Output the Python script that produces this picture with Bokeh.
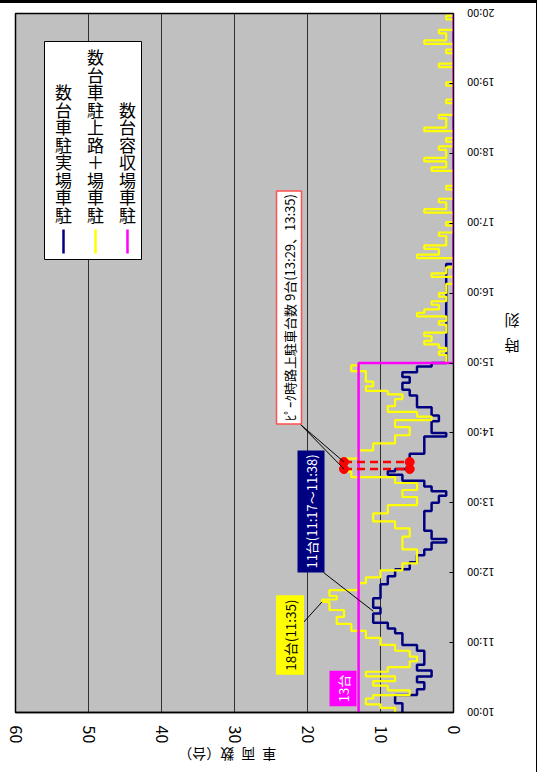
import math
from bokeh.plotting import figure
from bokeh.models import Range1d, FixedTicker, Label, ColumnDataSource, LinearAxis
from bokeh.embed import file_html
from bokeh.resources import INLINE
from bokeh.core.properties import value

FONT = "Noto Sans CJK JP"
TITLE_FONT = "'Liberation Sans', 'Noto Sans CJK JP'"

# ---------------- data ----------------
count_ticks = [0, 10, 20, 30, 40, 50, 60]
hour_ticks = [10, 11, 12, 13, 14, 15, 16, 17, 18, 19, 20]
hour_labels = ["10:00", "11:00", "12:00", "13:00", "14:00", "15:00",
               "16:00", "17:00", "18:00", "19:00", "20:00"]
x_title = "車\u2002両\u2002数（台）"
y_title = "時\n刻"

# 駐車場実駐車台数 (actual cars in the parking lot)
lot_times = ["10:00", "10:08", "10:15", "10:20", "10:26", "10:31", "10:36", "10:41",
             "10:53", "10:58", "11:08", "11:12", "11:17", "11:25", "11:30", "11:38",
             "11:50", "11:57", "12:03", "12:09", "12:15", "12:20", "12:26", "12:29",
             "12:36", "12:53", "13:00", "13:06", "13:10", "13:14", "13:19", "13:24",
             "13:27", "13:29", "13:42", "13:57", "14:00", "14:10", "14:15", "14:22",
             "14:32", "14:37", "14:43", "14:48", "14:52", "14:57", "15:00", "16:25"]
lot_vals = [7, 8, 5, 4, 5, 3, 5, 4,
            5, 7, 8, 9, 11, 10, 11, 10,
            9, 8, 6, 5, 4, 3, 1, 3,
            4, 3, 2, 1, 3, 4, 7, 9,
            8, 6, 4, 1, 3, 2, 3, 5,
            6, 7, 6, 7, 5, 3, 1, 0]

# 駐車場＋路上駐車台数 (lot + on-street)
total_times = ["10:00", "10:04", "10:07", "10:12", "10:15", "10:19", "10:23", "10:27",
               "10:31", "10:35", "10:39", "10:44", "10:48", "10:53", "10:58", "11:04",
               "11:10", "11:16", "11:22", "11:28", "11:35", "11:37", "11:40", "11:45",
               "11:51", "11:56", "12:02", "12:08", "12:20", "12:31", "12:38", "12:44",
               "12:51", "12:58", "13:05", "13:11", "13:17", "13:22", "13:27", "13:38",
               "13:45", "13:51", "13:58", "14:05", "14:11", "14:14", "14:18", "14:23",
               "14:29", "14:33", "14:36", "14:40", "14:44", "14:53", "14:58",
               "15:00", "15:07", "15:10", "15:13", "15:16", "15:19", "15:23", "15:26",
               "15:33", "15:36", "15:40", "15:43", "15:46", "15:50", "15:53", "15:57",
               "16:00", "16:08", "16:14", "16:17", "16:22", "16:30", "16:33", "16:38",
               "16:41", "16:49", "16:52", "16:58", "17:01", "17:09", "17:12", "17:18",
               "17:21", "17:29", "17:32", "17:45", "17:48", "17:53", "17:56", "18:03",
               "18:06", "18:10", "18:13", "18:19", "18:22", "18:30", "18:33", "18:43",
               "18:46", "18:58", "19:01", "19:14", "19:17", "19:26", "19:29", "19:34",
               "19:37", "19:43", "19:46", "19:55", "19:58"]
total_vals = [8, 10, 12, 11, 6, 9, 11, 8,
              12, 9, 6, 5, 6, 8, 10, 12,
              14, 16, 15, 17, 18, 16, 17, 13,
              12, 10, 7, 5, 7, 6, 8, 11,
              9, 5, 7, 5, 8, 14, 15, 13,
              11, 8, 6, 8, 3, 5, 9, 8,
              7, 9, 12, 11, 12, 14, 13,
              1, 2, 1, 2, 4, 3, 4, 1,
              2, 1, 5, 4, 2, 3, 1, 2,
              1, 0, 3, 1, 0, 5, 2, 4,
              1, 2, 0, 1, 0, 4, 1, 2,
              0, 1, 0, 3, 1, 4, 1, 2,
              0, 1, 0, 4, 1, 2, 0, 1,
              0, 1, 0, 2, 0, 1, 0, 4,
              1, 2, 0, 1, 0]

# 駐車場収容台数 (capacity)
cap_times = ["10:00", "15:00"]
cap_vals = [13, 0]

# peak of on-street parking
peak_times = ["13:29", "13:35"]
peak_total = [15, 15]
peak_lot = [6, 6]

legend_names = ["駐車場実駐車台数", "駐車場＋路上駐車台数", "駐車場収容台数"]
legend_colors = ["#000080", "#FFFF00", "#FF00FF"]


def hrs(s):
    h, m = s.split(":")
    return int(h) + int(m) / 60.0


def step_xy(times, vals, end="20:00"):
    ts = [hrs(t) for t in times] + [hrs(end)]
    xs, ys = [], []
    for i, v in enumerate(vals):
        xs += [v, v]
        ys += [ts[i], ts[i + 1]]
    return xs, ys


# reference pixel -> data helpers (annotation placement only)
def cx(px):
    return (453 - px) / 7.3


def ty(py):
    return 20 - (py - 13) / 69.9


p = figure(width=537, height=772, x_range=Range1d(60, 0), y_range=Range1d(10, 20),
           x_axis_location="below", y_axis_location="right",
           output_backend="svg", toolbar_location=None,
           min_border_left=15, min_border_right=84, min_border_top=13, min_border_bottom=60)
p.background_fill_color = "#C0C0C0"
p.border_fill_alpha = 0
p.outline_line_color = "black"
p.outline_line_width = 1.5
p.styles = {"box-shadow": "inset 0 3px 0 0 #000000, inset -1px 0 0 0 #000000"}

xa = p.xaxis[0]
xa.ticker = FixedTicker(ticks=count_ticks)
xa.major_label_orientation = "vertical"
xa.major_label_text_font = FONT
xa.major_label_text_font_size = "16px"
xa.major_label_text_color = "black"
xa.major_tick_in = 0
xa.major_tick_out = 0
xa.minor_tick_in = 0
xa.minor_tick_out = 0
xa.major_label_standoff = 13
xa.axis_line_color = "black"
xa.axis_line_width = 1.5

ya = p.yaxis[0]
ya.ticker = FixedTicker(ticks=hour_ticks)
ya.major_label_overrides = {h: lab for h, lab in zip(hour_ticks, hour_labels)}
ya.major_label_orientation = math.pi
ya.major_label_text_font = FONT
ya.major_label_text_font_size = "11px"
ya.major_label_text_color = "black"
ya.major_tick_in = 4
ya.major_tick_out = 0
ya.minor_tick_in = 0
ya.minor_tick_out = 0
ya.major_label_standoff = 41
ya.axis_line_color = "black"

# axis titles drawn as the single label of an extra, line-less axis
x_title_pos = 37.7
y_title_pos = 15.41
xt = LinearAxis(ticker=FixedTicker(ticks=[x_title_pos]),
                major_label_overrides={x_title_pos: x_title},
                major_label_orientation=math.pi,
                major_label_text_font=TITLE_FONT, major_label_text_font_size="14px",
                major_label_text_color="black", major_label_standoff=1,
                axis_line_color=None, major_tick_line_color=None,
                minor_tick_line_color=None)
p.add_layout(xt, "below")
yt = LinearAxis(ticker=FixedTicker(ticks=[y_title_pos]),
                major_label_overrides={y_title_pos: y_title},
                major_label_orientation=math.pi,
                major_label_text_font=FONT, major_label_text_font_size="15px",
                major_label_text_color="black", major_label_standoff=-11,
                axis_line_color=None, major_tick_line_color=None,
                minor_tick_line_color=None)
p.add_layout(yt, "right")

p.xgrid.ticker = FixedTicker(ticks=count_ticks)
p.xgrid.grid_line_color = "#303030"
p.xgrid.grid_line_width = 1
p.ygrid.visible = False

# series
lx, ly = step_xy(lot_times, lot_vals)
p.line(lx, ly, line_color=legend_colors[0], line_width=2.5)
tx, tyy = step_xy(total_times, total_vals)
p.line(tx, tyy, line_color=legend_colors[1], line_width=2.2)
mx, my = step_xy(cap_times, cap_vals)
p.line(mx, my, line_color=legend_colors[2], line_width=2.5)

# peak markers
pk_h = [hrs(t) for t in peak_times]
p.segment(x0=peak_total, y0=pk_h, x1=peak_lot, y1=pk_h, line_color="red",
          line_width=2.5, line_dash="8 5")
p.scatter(x=peak_total + peak_lot, y=pk_h + pk_h, size=9, color="red")

# leader lines
p.segment(x0=[cx(300), cx(300)], y0=[ty(424), ty(424)],
          x1=peak_total, y1=pk_h, line_color="black", line_width=1)
p.segment(x0=[cx(323)], y0=[ty(572)], x1=[11], y1=[hrs("11:27")],
          line_color="black", line_width=1)
p.segment(x0=[cx(302)], y0=[ty(623)], x1=[18], y1=[hrs("11:35")],
          line_color="black", line_width=1)

# legend
p.quad(left=[cx(44)], right=[cx(141)], top=[ty(41)], bottom=[ty(259)],
       fill_color="white", line_color="black", line_width=1)
leg_x = [cx(63), cx(95), cx(127)]
p.segment(x0=leg_x, y0=[ty(229)] * 3, x1=leg_x, y1=[ty(253)] * 3,
          line_color=legend_colors, line_width=2.5)
leg_src = ColumnDataSource(dict(x=leg_x, y=[ty(226)] * 3,
                                t=["\n".join(reversed(n)) for n in legend_names]))
p.text(x="x", y="y", text="t", source=leg_src, text_font=value(FONT),
       text_font_size="17px", text_line_height=0.70, text_align="center",
       text_baseline="bottom", text_color="black")


# callouts
def callout(x, y, text, bg, fg, border, size="13px", pad=3):
    lab = Label(x=x, y=y, text=text, angle=math.pi / 2, text_align="center",
                text_baseline="middle", text_font=FONT, text_font_size=size,
                text_color=fg, background_fill_color=bg, border_line_color=border,
                border_line_width=1.5, padding=pad)
    p.add_layout(lab)


callout(cx(288.5), ty(307), "ﾋﾟｰｸ時路上駐車台数 9台(13:29、13:35)", "white", "black", "#FF5050")
callout(cx(310.5), ty(511), "11台(11:17～11:38)", "#000080", "white", None, "13px", 4)
callout(cx(289.5), ty(634.5), "18台(11:35)", "#FFFF00", "black", None, "13.5px", 4)
callout(cx(342.5), ty(688), "13台", "#FF00FF", "white", None, "13px", 4)

open("out.html", "w").write(file_html(p, INLINE))
